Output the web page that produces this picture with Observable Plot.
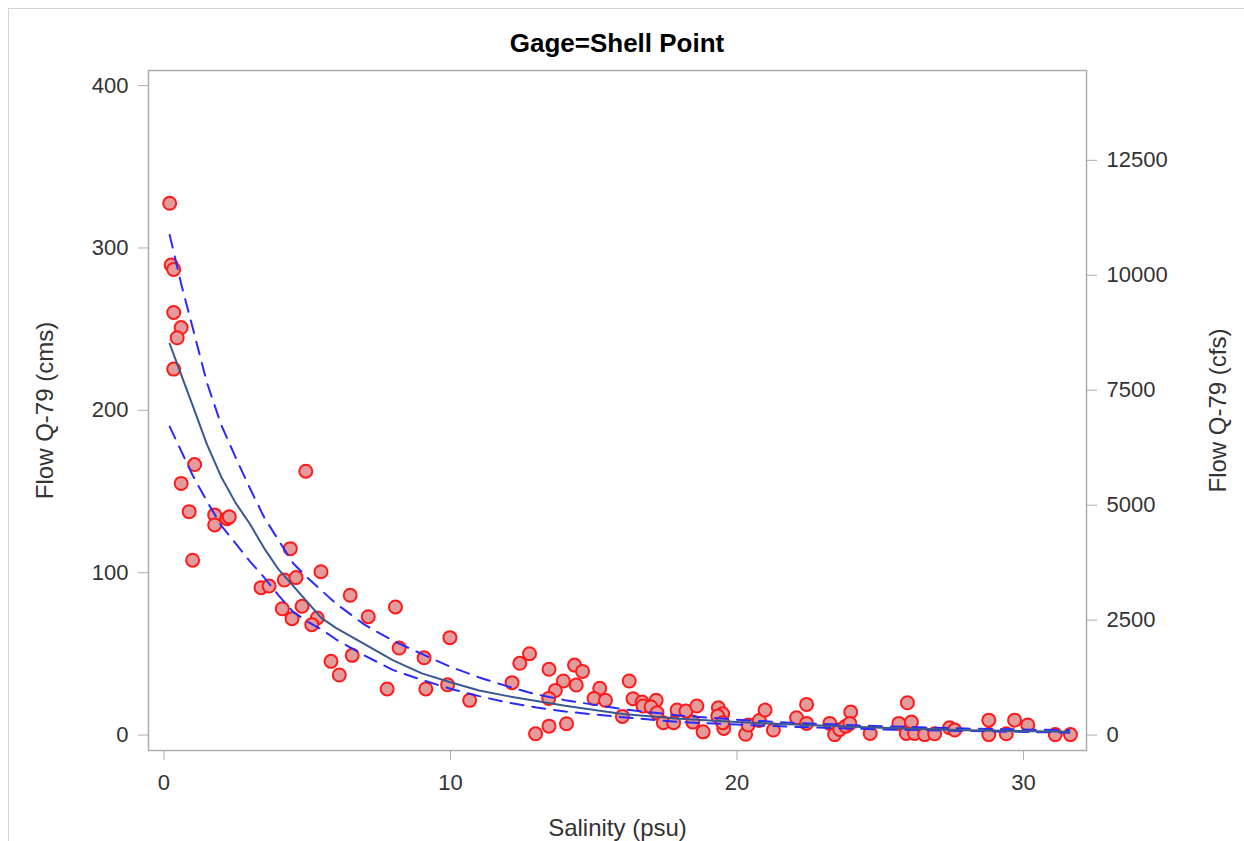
<!DOCTYPE html>
<html>
<head>
<meta charset="utf-8">
<script src="https://cdn.jsdelivr.net/npm/d3@7"></script>
<script src="https://cdn.jsdelivr.net/npm/@observablehq/plot@0.6"></script>
<style>
  html, body { margin: 0; padding: 0; background: #fff; }
  #wrap { position: relative; width: 1244px; height: 841px; overflow: hidden; font-family: "Liberation Sans", Arial, sans-serif; }
  #border { position: absolute; left: 8px; top: 8px; width: 1300px; height: 900px; border-left: 1px solid #d4d4d4; border-top: 1px solid #d4d4d4; }
  #title { position: absolute; left: 148px; width: 938px; top: 28px; height: 30px; line-height: 30px; text-align: center; font-weight: bold; font-size: 26px; color: #000; }
  #chart { position: absolute; left: 0; top: 60px; }
</style>
</head>
<body>
<div id="wrap">
  <div id="border"></div>
  <div id="title">Gage=Shell Point</div>
  <div id="chart"></div>
</div>
<script>
// Observed data: salinity (psu) vs flow (cms)
const salinity = [0.20,0.25,0.34,0.34,0.60,0.46,0.34,1.07,4.95,0.60,0.88,1.77,1.77,2.20,2.28,1.00,4.41,5.48,3.39,3.67,4.20,4.61,6.50,8.08,7.13,4.13,4.82,4.47,5.35,5.16,9.98,8.21,9.08,6.57,5.83,6.12,7.79,9.14,9.90,10.67,12.76,12.42,12.15,13.44,14.33,14.61,13.94,13.66,14.39,13.43,12.97,13.44,14.05,15.21,15.01,15.41,16.24,16.37,16.00,16.69,16.72,17.18,17.00,17.21,17.43,17.79,17.91,18.22,18.60,18.46,18.82,19.35,19.50,19.33,19.54,19.50,20.30,20.39,20.78,20.98,21.27,22.08,22.43,22.43,23.24,23.41,23.59,23.80,23.97,23.94,24.65,25.65,25.95,26.09,25.91,26.20,26.55,26.90,27.42,27.60,28.79,28.79,29.40,29.69,30.15,31.11,31.64];
const flowCms = [327.5,289.5,286.8,260.3,251.0,244.7,225.4,166.6,162.5,155.0,137.6,135.6,129.4,133.3,134.4,107.7,114.8,100.6,90.8,91.8,95.5,97.0,86.1,78.9,72.9,77.8,79.3,71.7,72.1,68.0,60.0,53.6,47.6,49.1,45.4,37.0,28.4,28.4,31.0,21.4,50.1,44.2,32.3,40.5,43.1,39.2,33.3,27.5,30.8,22.6,0.8,5.5,7.0,28.8,22.6,21.4,33.3,22.4,11.5,20.3,17.9,21.4,17.3,13.7,7.6,7.6,15.4,14.8,17.9,8.0,2.0,16.8,13.1,11.7,4.1,7.6,0.5,6.2,9.0,15.4,3.1,10.7,18.9,7.2,7.2,0.3,3.5,5.5,14.2,7.2,1.0,7.2,19.9,8.0,1.0,1.0,0.3,0.8,4.5,3.1,9.2,0.3,0.8,9.2,6.2,0.3,0.3];

// Fitted curve and confidence limits (cms)
const fitSal   = [0.2,0.6,1.0,1.5,2.0,2.5,3.0,3.5,4.0,4.5,5.0,5.5,6.0,7.0,8.0,9.0,10.0,11.0,12.0,13.0,14.0,16.0,18.0,20.0,22.0,25.0,28.0,31.6];
const fitCms   = [241,222,203,179,159,143,130,115,102,92,82,72,66,56,46,38,32.5,27.5,24,21,18,13,10,8,6.5,4.5,3,2];
const upperCms = [308,278,251,217,191,171,152,134,120,106,97,89,81,68,58,50,42,35.5,30,25,21.5,16,12,9.5,7.5,5.5,4,3];
const lowerCms = [190,175,160,144,129,118,107,97,86,76,70,65,59,49,40,34,28.5,24,20,17,14.5,11,8,6.5,5,3.5,2.5,1.5];

// Axes
const xTicks = [0, 10, 20, 30];
const yTicks = [0, 100, 200, 300, 400];
const cfsTicks = [0, 2500, 5000, 7500, 10000, 12500];
const CMS_TO_CFS = 35.3147;

const points = salinity.map((s, i) => ({s, q: flowCms[i]}));
const curve = fitSal.map((s, i) => ({s, fit: fitCms[i], up: upperCms[i], lo: lowerCms[i]}));

const axisGrey = "#a9adb2";
const font = "'Liberation Sans', Arial, sans-serif";

const chart = Plot.plot({
  width: 1244,
  height: 781,
  marginLeft: 148,
  marginRight: 158,
  marginTop: 10,
  marginBottom: 91,
  style: {fontFamily: font, fontSize: "22px", color: "#333", background: "transparent", overflow: "visible"},
  x: {domain: [-0.54, 32.2]},
  y: {domain: [-9.5, 409.3]},
  marks: [
    Plot.frame({stroke: axisGrey, strokeWidth: 1.5}),
    Plot.axisX({ticks: xTicks, tickSize: 10, tickPadding: 14, stroke: axisGrey, fill: "#333", label: null, fontSize: 22}),
    Plot.axisY({anchor: "left", ticks: yTicks, tickSize: 10, tickPadding: 10, stroke: axisGrey, fill: "#333", label: null, fontSize: 22}),
    Plot.axisY({anchor: "right", ticks: cfsTicks.map(v => v / CMS_TO_CFS), tickFormat: d => String(Math.round(d * CMS_TO_CFS)), tickSize: 10, tickPadding: 10, stroke: axisGrey, fill: "#333", label: null, fontSize: 22}),
    Plot.text(["Flow Q-79 (cms)"], {frameAnchor: "left", textAnchor: "middle", rotate: -90, dx: -103, text: d => d, fontSize: 24, fill: "#333", lineAnchor: "middle"}),
    Plot.text(["Flow Q-79 (cfs)"], {frameAnchor: "right", textAnchor: "middle", rotate: -90, dx: 132, text: d => d, fontSize: 24, fill: "#333", lineAnchor: "middle"}),
    Plot.text(["Salinity (psu)"], {frameAnchor: "bottom", textAnchor: "middle", dy: 78, text: d => d, fontSize: 24, fill: "#333", lineAnchor: "middle"}),
    Plot.dot(points, {x: "s", y: "q", r: 6.5, fill: "#e39b9b", stroke: "#ff1a1a", strokeWidth: 2}),
    Plot.line(curve, {x: "s", y: "up", stroke: "#2a2aff", strokeWidth: 2, strokeDasharray: "13,9"}),
    Plot.line(curve, {x: "s", y: "lo", stroke: "#2a2aff", strokeWidth: 2, strokeDasharray: "13,9"}),
    Plot.line(curve, {x: "s", y: "fit", stroke: "#3a5890", strokeWidth: 2})
  ]
});
document.getElementById("chart").appendChild(chart);
</script>
</body>
</html>
